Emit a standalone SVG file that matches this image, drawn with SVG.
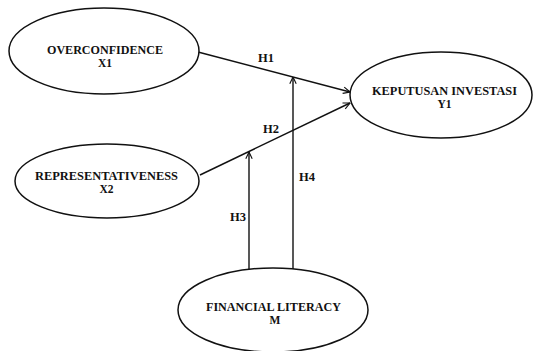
<svg xmlns="http://www.w3.org/2000/svg" width="534" height="351" viewBox="0 0 534 351">
<style>
.node ellipse{fill:#fff;stroke:#111;stroke-width:1.5}
.t{font-family:"Liberation Serif","Times New Roman",serif;font-weight:bold;font-size:11.5px;fill:#111;text-anchor:middle}
.lbl{font-family:"Liberation Serif","Times New Roman",serif;font-weight:bold;font-size:12.5px;fill:#111}
.edge{stroke:#111;stroke-width:1.4;fill:none;marker-end:url(#arr)}
</style>
<defs>
<marker id="arr" viewBox="0 0 10 10" refX="9.5" refY="5" markerWidth="8" markerHeight="8" markerUnits="userSpaceOnUse" orient="auto">
<path d="M1,1 L9.5,5 L1,9" fill="none" stroke="#111" stroke-width="1.4"/>
</marker>
</defs>
<rect width="534" height="351" fill="#fff"/>
<g id="connectors">
<line class="edge" x1="198" y1="52" x2="350" y2="92"/>
<line class="edge" x1="200" y1="175" x2="350" y2="103"/>
<line class="edge" x1="249" y1="269" x2="249" y2="152"/>
<line class="edge" x1="293" y1="269" x2="293" y2="77"/>
<text class="lbl" x="258" y="62" textLength="16" lengthAdjust="spacingAndGlyphs">H1</text>
<text class="lbl" x="263" y="133" textLength="16" lengthAdjust="spacingAndGlyphs">H2</text>
<text class="lbl" x="230" y="221" textLength="16" lengthAdjust="spacingAndGlyphs">H3</text>
<text class="lbl" x="299" y="181" textLength="16" lengthAdjust="spacingAndGlyphs">H4</text>
</g>
<g id="overconfidence" class="node">
<ellipse cx="104" cy="51" rx="95" ry="43"/>
<text class="t" x="105" y="54" textLength="116" lengthAdjust="spacingAndGlyphs">OVERCONFIDENCE</text>
<text class="t" x="105" y="67">X1</text>
</g>
<g id="representativeness" class="node">
<ellipse cx="107" cy="181" rx="92" ry="37"/>
<text class="t" x="106.5" y="180" textLength="143" lengthAdjust="spacingAndGlyphs">REPRESENTATIVENESS</text>
<text class="t" x="106.5" y="193">X2</text>
</g>
<g id="keputusan" class="node">
<ellipse cx="441" cy="95" rx="91" ry="43"/>
<text class="t" x="444.5" y="95" textLength="145" lengthAdjust="spacingAndGlyphs">KEPUTUSAN INVESTASI</text>
<text class="t" x="444.5" y="108">Y1</text>
</g>
<g id="financial-literacy" class="node">
<ellipse cx="273" cy="310" rx="95" ry="42"/>
<text class="t" x="273.5" y="311" textLength="135" lengthAdjust="spacingAndGlyphs">FINANCIAL LITERACY</text>
<text class="t" x="275" y="324">M</text>
</g>
</svg>
